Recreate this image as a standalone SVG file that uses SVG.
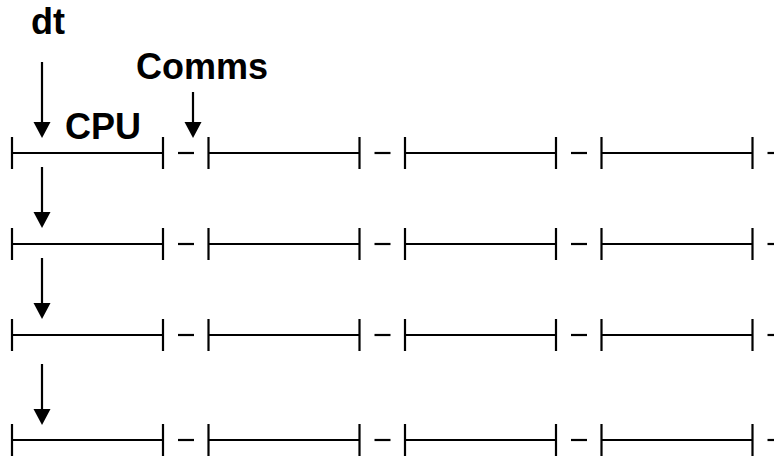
<svg xmlns="http://www.w3.org/2000/svg" xmlns:xlink="http://www.w3.org/1999/xlink" width="774" height="456" viewBox="0 0 774 456">
  <style>
    .bar { stroke: #000; stroke-width: 2.2; fill: none; }
    .arrow { stroke: #000; stroke-width: 2.2; fill: none; marker-end: url(#head); }
    .label { font-family: "Liberation Sans", Arial, sans-serif; font-weight: bold; font-size: 36px; fill: #000; }
  </style>
  <defs>
    <marker id="head" markerUnits="userSpaceOnUse" markerWidth="17" markerHeight="17" refX="10" refY="8.5" orient="auto" overflow="visible">
      <path d="M0,0 L16,8.5 L0,17 z" fill="#000"/>
    </marker>
    <!-- one CPU interval: tick, bar, tick -->
    <g id="seg">
      <path class="bar" d="M0,-16 V16 M0,0 H151 M151,-16 V16"/>
    </g>
    <!-- short comms gap marker -->
    <g id="gap">
      <path class="bar" d="M15,0 H31"/>
    </g>
    <!-- a full timeline row of four CPU intervals -->
    <g id="timeline">
      <use xlink:href="#seg" x="12"/>
      <use xlink:href="#gap" x="163"/>
      <use xlink:href="#seg" x="208.5"/>
      <use xlink:href="#gap" x="359.5"/>
      <use xlink:href="#seg" x="405"/>
      <use xlink:href="#gap" x="556"/>
      <use xlink:href="#seg" x="601.5"/>
      <use xlink:href="#gap" x="752.5"/>
    </g>
  </defs>

  <g id="row1"><use xlink:href="#timeline" y="153"/></g>
  <g id="row2"><use xlink:href="#timeline" y="244"/></g>
  <g id="row3"><use xlink:href="#timeline" y="335"/></g>
  <g id="row4"><use xlink:href="#timeline" y="440"/></g>

  <g id="labels">
    <text class="label" x="31" y="34">dt</text>
    <text class="label" x="136" y="79">Comms</text>
    <text class="label" x="65" y="139">CPU</text>
  </g>

  <g id="connectors">
    <line class="arrow" x1="42" y1="62" x2="42" y2="132"/>
    <line class="arrow" x1="193" y1="92" x2="193" y2="132"/>
    <line class="arrow" x1="42" y1="167" x2="42" y2="222"/>
    <line class="arrow" x1="42" y1="258" x2="42" y2="313"/>
    <line class="arrow" x1="42" y1="364" x2="42" y2="419"/>
  </g>
</svg>
